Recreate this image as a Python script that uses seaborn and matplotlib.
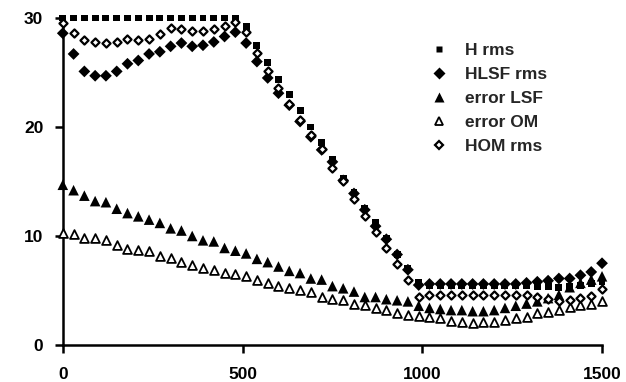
import matplotlib
matplotlib.use("Agg")
import matplotlib.pyplot as plt
from matplotlib.lines import Line2D
import seaborn as sns
import pandas as pd

x_vals = [0, 30, 60, 90, 120, 150, 180, 210, 240, 270, 300, 330, 360, 390, 420, 450, 480,
          510, 540, 570, 600, 630, 660, 690, 720, 750, 780, 810, 840, 870, 900, 930, 960,
          990, 1020, 1050, 1080, 1110, 1140, 1170, 1200, 1230, 1260, 1290, 1320, 1350,
          1380, 1410, 1440, 1470, 1500]

h_rms = [30, 30, 30, 30, 30, 30, 30, 30, 30, 30, 30, 30, 30, 30, 30, 30, 30,
         29.2, 27.5, 25.9, 24.4, 23.0, 21.5, 20.0, 18.6, 17.0, 15.3, 14.0, 12.5, 11.2, 9.8, 8.3, 7.0,
         5.7, 5.5, 5.5, 5.5, 5.5, 5.5, 5.5, 5.5, 5.5, 5.5, 5.5, 5.4, 5.4, 5.3, 5.4, 5.5, 5.6, 5.8]

hlsf_rms = [28.6, 26.7, 25.1, 24.7, 24.7, 25.1, 25.8, 26.1, 26.7, 26.9, 27.4, 27.7, 27.4, 27.5, 27.8, 28.3, 28.7,
            27.7, 26.0, 24.5, 23.1, 22.0, 20.5, 19.1, 17.9, 16.8, 15.1, 13.9, 12.4, 10.9, 9.7, 8.3, 6.9,
            5.5, 5.6, 5.6, 5.6, 5.6, 5.6, 5.6, 5.6, 5.6, 5.6, 5.7, 5.8, 5.9, 6.1, 6.1, 6.4, 6.7, 7.5]

error_lsf = [14.7, 14.2, 13.7, 13.2, 13.1, 12.5, 12.1, 11.8, 11.5, 11.2, 10.7, 10.5, 10.0, 9.6, 9.5, 8.9, 8.65,
             8.4, 7.9, 7.6, 7.2, 6.8, 6.6, 6.1, 6.0, 5.4, 5.2, 4.9, 4.4, 4.4, 4.2, 4.1, 4.0,
             3.6, 3.4, 3.3, 3.2, 3.2, 3.1, 3.1, 3.2, 3.4, 3.6, 3.8, 4.0, 4.3, 4.6, 5.3, 5.7, 6.0, 6.3]

error_om = [10.25, 10.15, 9.85, 9.8, 9.6, 9.2, 8.8, 8.7, 8.6, 8.2, 7.95, 7.6, 7.3, 7.1, 6.9, 6.6, 6.55,
            6.3, 6.0, 5.65, 5.4, 5.2, 5.0, 4.85, 4.4, 4.2, 4.1, 3.8, 3.7, 3.4, 3.2, 2.9, 2.75,
            2.7, 2.6, 2.45, 2.2, 2.15, 2.0, 2.15, 2.15, 2.3, 2.45, 2.6, 2.9, 3.05, 3.2, 3.5, 3.7, 3.8, 4.0]

hom_rms = [29.5, 28.6, 28.0, 27.8, 27.7, 27.8, 28.1, 28.0, 28.1, 28.5, 29.05, 29.0, 28.8, 28.8, 29.0, 29.3, 29.6,
           28.7, 26.8, 25.1, 23.6, 22.1, 20.6, 19.3, 18.0, 16.2, 15.0, 13.4, 11.8, 10.4, 8.9, 7.4, 6.0,
           4.4, 4.6, 4.6, 4.6, 4.6, 4.6, 4.6, 4.6, 4.6, 4.6, 4.6, 4.4, 4.2, 4.0, 4.1, 4.3, 4.5, 5.1]

series_labels = ["H rms", "HLSF rms", "error LSF", "error OM", "HOM rms"]
x_ticks = [0, 500, 1000, 1500]
y_ticks = [0, 10, 20, 30]

sns.set_theme(style="white")
plt.rcParams["font.family"] = ["Liberation Sans", "DejaVu Sans"]
plt.rcParams["font.weight"] = "bold"

fig = plt.figure(figsize=(6.26, 3.82), dpi=100)
ax = fig.add_axes([0.1003, 0.0969, 0.8614, 0.856])

df = pd.DataFrame({"x": x_vals, "H rms": h_rms, "HLSF rms": hlsf_rms,
                   "error LSF": error_lsf, "error OM": error_om, "HOM rms": hom_rms})

styles = {
    "H rms": dict(marker="s", s=25, color="black", edgecolor="none", linewidth=0),
    "HLSF rms": dict(marker="D", s=36, color="black", edgecolor="none", linewidth=0),
    "error LSF": dict(marker="^", s=58, color="black", edgecolor="none", linewidth=0),
    "error OM": dict(marker="^", s=40, color="white", edgecolor="black", linewidth=1.3),
    "HOM rms": dict(marker="D", s=17, color="white", edgecolor="black", linewidth=1.6),
}

for name in series_labels:
    sns.scatterplot(data=df, x="x", y=name, ax=ax, clip_on=False, zorder=3, **styles[name])

ax.set_xlim(0, 1500)
ax.set_ylim(0, 30)
ax.set_xticks(x_ticks)
ax.set_yticks(y_ticks)
ax.set_xlabel("")
ax.set_ylabel("")
for side in ["top", "right"]:
    ax.spines[side].set_visible(False)
for side in ["left", "bottom"]:
    ax.spines[side].set_linewidth(1.8)
    ax.spines[side].set_color("black")
ax.tick_params(axis="both", direction="out", length=6, width=1.8, colors="black",
               labelsize=12.5, left=True, bottom=True)
ax.tick_params(axis="x", pad=10)
ax.tick_params(axis="y", pad=8)

handles = [
    Line2D([], [], linestyle="none", marker="s", markersize=5.0, markerfacecolor="black", markeredgecolor="none"),
    Line2D([], [], linestyle="none", marker="D", markersize=6.0, markerfacecolor="black", markeredgecolor="none"),
    Line2D([], [], linestyle="none", marker="^", markersize=7.6, markerfacecolor="black", markeredgecolor="none"),
    Line2D([], [], linestyle="none", marker="^", markersize=6.3, markerfacecolor="white", markeredgecolor="black", markeredgewidth=1.3),
    Line2D([], [], linestyle="none", marker="D", markersize=4.1, markerfacecolor="white", markeredgecolor="black", markeredgewidth=1.6),
]
ax.legend(handles, series_labels, loc="upper left", bbox_to_anchor=(0.681, 0.925),
          frameon=False, fontsize=12.5, handlelength=1.0, handletextpad=1.0,
          labelspacing=0.52, borderaxespad=0, borderpad=0)

fig.savefig("out.png", dpi=100)
